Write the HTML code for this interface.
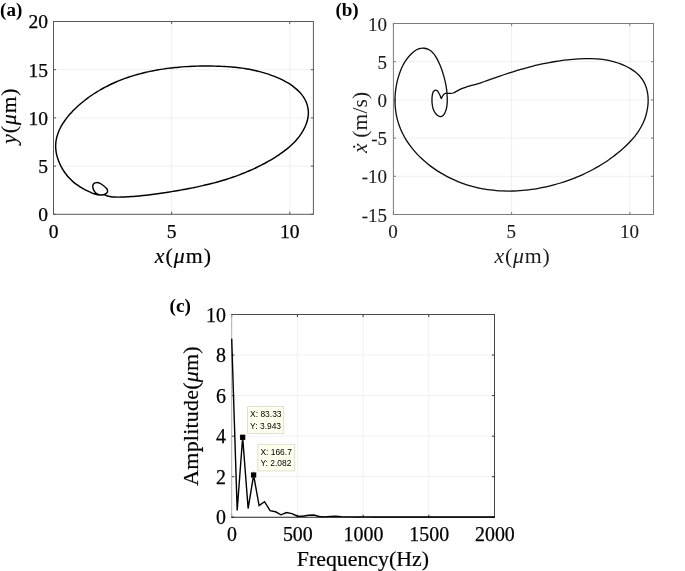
<!DOCTYPE html>
<html lang="en">
<head>
<meta charset="utf-8">
<title>Phase portraits and frequency spectrum</title>
<style>
html,body{margin:0;padding:0;background:#fff;}
body{width:685px;height:571px;overflow:hidden;font-family:"Liberation Serif", serif;}
svg{display:block;}
</style>
</head>
<body>
<svg role="img" aria-label="Phase portraits (a), (b) and frequency spectrum (c)" width="685" height="571" viewBox="0 0 685 571">
<rect width="685" height="571" fill="#fff"/>
<g id="plot-a">
<path d="M171.64 21.5V214.3M289.77 21.5V214.3M53.5 166.1H313.4M53.5 117.9H313.4M53.5 69.7H313.4" stroke="#e6e6e6" stroke-width="0.6" fill="none"/>
<path d="M53.5 214.3v-2.6M53.5 21.5v2.6M171.64 214.3v-2.6M171.64 21.5v2.6M289.77 214.3v-2.6M289.77 21.5v2.6M53.5 214.3h2.6M313.4 214.3h-2.6M53.5 166.1h2.6M313.4 166.1h-2.6M53.5 117.9h2.6M313.4 117.9h-2.6M53.5 69.7h2.6M313.4 69.7h-2.6M53.5 21.5h2.6M313.4 21.5h-2.6" stroke="#585858" stroke-width="1.0" fill="none"/>
<rect x="53.5" y="21.5" width="259.9" height="192.8" fill="none" stroke="#585858" stroke-width="1.0"/>
<g font-family='"Liberation Serif", serif' font-size="19.5" fill="#000" stroke="#000" stroke-width="0.25">
<text x="53.5" y="238.25" text-anchor="middle">0</text>
<text x="171.64" y="238.25" text-anchor="middle">5</text>
<text x="289.77" y="238.25" text-anchor="middle">10</text>
<text x="47.9" y="221.24" text-anchor="end">0</text>
<text x="47.9" y="173.04" text-anchor="end">5</text>
<text x="47.9" y="124.84" text-anchor="end">10</text>
<text x="47.9" y="76.64" text-anchor="end">15</text>
<text x="47.9" y="28.44" text-anchor="end">20</text>
</g>
<path d="M94 193.79C92.4 193.34 91.81 192.88 90.73 192.4C89.65 191.92 88.57 191.42 87.51 190.91C86.45 190.39 85.39 189.86 84.35 189.3C83.32 188.74 82.29 188.16 81.28 187.55C80.27 186.94 79.27 186.31 78.29 185.65C77.32 184.99 76.36 184.3 75.42 183.58C74.48 182.86 73.56 182.11 72.66 181.33C71.77 180.54 70.89 179.72 70.05 178.86C69.2 178 68.38 177.11 67.59 176.17C66.79 175.24 66.03 174.27 65.29 173.27C64.56 172.27 63.86 171.23 63.19 170.17C62.53 169.11 61.9 168.02 61.31 166.92C60.72 165.82 60.16 164.69 59.66 163.55C59.15 162.41 58.68 161.25 58.26 160.08C57.84 158.92 57.47 157.74 57.14 156.57C56.82 155.39 56.54 154.2 56.32 153.03C56.1 151.85 55.94 150.67 55.83 149.5C55.72 148.33 55.67 147.17 55.67 146.01C55.67 144.86 55.74 143.72 55.85 142.59C55.97 141.46 56.14 140.34 56.35 139.23C56.57 138.12 56.84 137.02 57.15 135.93C57.46 134.84 57.82 133.76 58.23 132.7C58.63 131.63 59.07 130.58 59.56 129.54C60.04 128.49 60.57 127.46 61.12 126.45C61.68 125.43 62.28 124.42 62.9 123.43C63.53 122.44 64.19 121.46 64.88 120.49C65.56 119.53 66.28 118.57 67.02 117.63C67.76 116.69 68.53 115.76 69.32 114.85C70.11 113.94 70.92 113.04 71.75 112.15C72.58 111.27 73.43 110.4 74.29 109.54C75.15 108.69 76.03 107.84 76.92 107.02C77.81 106.19 78.71 105.38 79.62 104.58C80.53 103.79 81.45 103.01 82.37 102.24C83.3 101.47 84.24 100.72 85.18 99.99C86.13 99.25 87.08 98.53 88.05 97.82C89.01 97.11 89.98 96.42 90.96 95.74C91.94 95.06 92.93 94.39 93.93 93.74C94.92 93.09 95.93 92.45 96.94 91.83C97.95 91.21 98.97 90.6 99.99 90C101.02 89.4 102.06 88.82 103.1 88.25C104.14 87.68 105.19 87.12 106.24 86.58C107.29 86.03 108.36 85.5 109.42 84.98C110.49 84.46 111.57 83.96 112.65 83.47C113.73 82.97 114.81 82.49 115.9 82.02C117 81.55 118.1 81.1 119.2 80.65C120.3 80.21 121.41 79.78 122.52 79.35C123.64 78.93 124.76 78.52 125.88 78.13C127.01 77.73 128.13 77.34 129.27 76.97C130.4 76.59 131.54 76.23 132.68 75.88C133.82 75.52 134.97 75.18 136.12 74.85C137.27 74.52 138.43 74.2 139.58 73.89C140.74 73.58 141.9 73.28 143.07 72.99C144.23 72.71 145.4 72.43 146.57 72.16C147.74 71.89 148.92 71.63 150.09 71.38C151.27 71.14 152.45 70.9 153.63 70.67C154.81 70.44 156 70.22 157.18 70.01C158.37 69.8 159.56 69.6 160.75 69.41C161.94 69.22 163.13 69.03 164.32 68.86C165.52 68.69 166.71 68.52 167.91 68.36C169.1 68.21 170.3 68.06 171.5 67.92C172.7 67.78 173.9 67.65 175.1 67.53C176.29 67.41 177.49 67.29 178.69 67.19C179.89 67.08 181.09 66.98 182.29 66.89C183.49 66.8 184.7 66.71 185.89 66.64C187.09 66.56 188.29 66.49 189.49 66.43C190.69 66.37 191.89 66.32 193.09 66.27C194.28 66.22 195.48 66.18 196.67 66.15C197.87 66.11 199.06 66.09 200.25 66.07C201.44 66.05 202.63 66.03 203.82 66.03C205.01 66.02 206.2 66.02 207.38 66.02C208.56 66.03 209.74 66.04 210.92 66.05C212.1 66.07 213.28 66.09 214.45 66.12C215.63 66.15 216.8 66.18 217.96 66.22C219.13 66.26 220.29 66.3 221.46 66.35C222.62 66.4 223.78 66.46 224.94 66.52C226.09 66.58 227.25 66.65 228.4 66.73C229.55 66.81 230.71 66.9 231.86 67C233.01 67.1 234.16 67.2 235.31 67.32C236.46 67.43 237.61 67.56 238.76 67.7C239.91 67.84 241.06 67.99 242.21 68.15C243.36 68.31 244.51 68.48 245.66 68.67C246.81 68.85 247.97 69.05 249.12 69.27C250.28 69.48 251.43 69.71 252.59 69.95C253.75 70.2 254.91 70.45 256.08 70.73C257.24 71 258.41 71.29 259.58 71.6C260.75 71.91 261.92 72.23 263.1 72.58C264.28 72.92 265.46 73.28 266.64 73.66C267.83 74.04 269.02 74.44 270.21 74.86C271.4 75.27 272.6 75.71 273.78 76.17C274.97 76.63 276.15 77.11 277.33 77.61C278.5 78.11 279.67 78.63 280.82 79.18C281.97 79.72 283.11 80.29 284.23 80.87C285.34 81.46 286.45 82.08 287.52 82.71C288.6 83.35 289.66 84 290.68 84.69C291.71 85.37 292.71 86.08 293.67 86.81C294.63 87.54 295.57 88.3 296.46 89.09C297.36 89.87 298.22 90.68 299.03 91.51C299.85 92.35 300.62 93.21 301.35 94.1C302.07 94.99 302.75 95.91 303.38 96.85C304 97.8 304.58 98.77 305.1 99.78C305.62 100.78 306.08 101.81 306.48 102.86C306.88 103.91 307.23 104.99 307.51 106.08C307.78 107.17 308 108.28 308.14 109.4C308.29 110.51 308.37 111.64 308.37 112.77C308.38 113.89 308.31 115.02 308.18 116.15C308.05 117.27 307.84 118.4 307.59 119.52C307.33 120.63 307.01 121.74 306.64 122.84C306.28 123.93 305.85 125.01 305.4 126.08C304.94 127.14 304.43 128.18 303.89 129.21C303.35 130.24 302.78 131.24 302.16 132.23C301.55 133.22 300.9 134.19 300.22 135.14C299.54 136.09 298.82 137.03 298.08 137.94C297.34 138.86 296.56 139.76 295.76 140.64C294.96 141.52 294.13 142.38 293.28 143.23C292.43 144.08 291.55 144.91 290.65 145.73C289.75 146.54 288.83 147.34 287.89 148.13C286.95 148.91 285.99 149.68 285.01 150.43C284.04 151.19 283.04 151.92 282.04 152.65C281.03 153.37 280.01 154.08 278.98 154.78C277.95 155.47 276.9 156.16 275.85 156.82C274.8 157.49 273.74 158.15 272.68 158.79C271.61 159.43 270.54 160.06 269.46 160.68C268.39 161.29 267.31 161.9 266.23 162.49C265.16 163.08 264.08 163.66 262.99 164.23C261.91 164.8 260.83 165.35 259.75 165.9C258.66 166.45 257.58 166.98 256.49 167.5C255.4 168.03 254.31 168.54 253.22 169.04C252.13 169.54 251.04 170.03 249.94 170.51C248.85 170.99 247.75 171.47 246.65 171.93C245.56 172.39 244.46 172.84 243.36 173.28C242.26 173.72 241.15 174.15 240.05 174.57C238.95 175 237.84 175.41 236.73 175.81C235.62 176.22 234.51 176.61 233.4 177C232.29 177.39 231.18 177.76 230.06 178.13C228.95 178.51 227.83 178.87 226.71 179.22C225.6 179.58 224.48 179.92 223.35 180.26C222.23 180.6 221.11 180.93 219.98 181.25C218.86 181.58 217.73 181.9 216.6 182.21C215.47 182.52 214.34 182.82 213.21 183.12C212.07 183.41 210.94 183.7 209.8 183.99C208.66 184.27 207.52 184.55 206.38 184.82C205.24 185.1 204.1 185.36 202.95 185.62C201.81 185.89 200.66 186.14 199.51 186.39C198.36 186.64 197.21 186.89 196.06 187.13C194.91 187.37 193.75 187.61 192.6 187.84C191.44 188.07 190.28 188.3 189.12 188.52C187.96 188.75 186.79 188.97 185.63 189.18C184.46 189.4 183.3 189.61 182.13 189.82C180.96 190.03 179.79 190.23 178.61 190.44C177.44 190.64 176.26 190.84 175.09 191.04C173.91 191.23 172.73 191.43 171.54 191.62C170.36 191.81 169.18 192 167.99 192.19C166.8 192.38 165.62 192.56 164.43 192.74C163.24 192.93 162.04 193.1 160.85 193.28C159.66 193.46 158.46 193.63 157.27 193.79C156.07 193.96 154.87 194.13 153.68 194.29C152.48 194.44 151.28 194.6 150.08 194.75C148.88 194.9 147.68 195.04 146.48 195.18C145.28 195.32 144.08 195.45 142.89 195.58C141.69 195.71 140.49 195.83 139.29 195.94C138.09 196.05 136.89 196.16 135.69 196.26C134.5 196.36 133.3 196.46 132.1 196.54C130.91 196.63 129.72 196.71 128.52 196.78C127.33 196.84 126.14 196.91 124.95 196.96C123.76 197.01 122.57 197.06 121.38 197.09C120.2 197.12 119.01 197.15 117.83 197.14C116.65 197.13 115.47 197.11 114.3 197.04C113.12 196.96 111.95 196.85 110.78 196.67C109.61 196.49 108.33 196.29 107.28 195.96C106.24 195.63 105.55 194.88 104.5 194.7C103.45 194.52 102.15 194.98 101 194.9C99.85 194.82 98.6 194.67 97.6 194.2C96.6 193.73 95.73 193 95 192.1C94.27 191.2 93.57 189.88 93.2 188.8C92.83 187.72 92.65 186.5 92.8 185.6C92.95 184.7 93.47 183.9 94.1 183.4C94.73 182.9 95.62 182.62 96.6 182.6C97.58 182.58 98.83 182.78 100 183.3C101.17 183.82 102.5 184.83 103.6 185.7C104.7 186.57 105.93 187.6 106.6 188.5C107.27 189.4 107.58 190.33 107.6 191.1C107.62 191.87 107.28 192.53 106.7 193.1C106.12 193.67 105.17 194.17 104.1 194.5C103.03 194.83 101.98 195.22 100.3 195.1C98.62 194.98 95.59 194.24 94 193.79Z" fill="none" stroke="#000" stroke-width="1.45" stroke-linejoin="round"/>
<text x="0.1" y="15.7" font-family='"Liberation Serif", serif' font-weight="bold" font-size="19.1">(a)</text>
<text x="154.8" y="263.3" letter-spacing="1.03" stroke="#000" stroke-width="0.2" font-family='"Liberation Serif", serif' font-size="21.8"><tspan font-style="italic">x</tspan>(<tspan font-style="italic">μ</tspan>m)</text>
<text transform="translate(15.8 143.7) rotate(-90)" letter-spacing="0.95" stroke="#000" stroke-width="0.2" font-family='"Liberation Serif", serif' font-size="21.5"><tspan font-style="italic">y</tspan>(<tspan font-style="italic">μ</tspan>m)</text>
</g>
<defs><filter id="soft" x="-2%" y="-2%" width="104%" height="104%"><feGaussianBlur stdDeviation="0.38"/></filter></defs>
<g id="plot-b" filter="url(#soft)">
<path d="M511.63 23.5V214.5M629.85 23.5V214.5M393.4 176.3H653.5M393.4 138.1H653.5M393.4 99.9H653.5M393.4 61.7H653.5" stroke="#e6e6e6" stroke-width="0.6" fill="none"/>
<path d="M393.4 214.5v-2.6M393.4 23.5v2.6M511.63 214.5v-2.6M511.63 23.5v2.6M629.85 214.5v-2.6M629.85 23.5v2.6M393.4 214.5h2.6M653.5 214.5h-2.6M393.4 176.3h2.6M653.5 176.3h-2.6M393.4 138.1h2.6M653.5 138.1h-2.6M393.4 99.9h2.6M653.5 99.9h-2.6M393.4 61.7h2.6M653.5 61.7h-2.6M393.4 23.5h2.6M653.5 23.5h-2.6" stroke="#7c7c7c" stroke-width="1.0" fill="none"/>
<rect x="393.4" y="23.5" width="260.1" height="191" fill="none" stroke="#7c7c7c" stroke-width="1.0"/>
<g font-family='"Liberation Serif", serif' font-size="19.0" fill="#1c1c1c" stroke="#1c1c1c" stroke-width="0.12">
<text x="393" y="238.2" text-anchor="middle">0</text>
<text x="511.23" y="238.2" text-anchor="middle">5</text>
<text x="629.45" y="238.2" text-anchor="middle">10</text>
<text x="387" y="221.53" text-anchor="end">-15</text>
<text x="387" y="183.33" text-anchor="end">-10</text>
<text x="387" y="145.13" text-anchor="end">-5</text>
<text x="387" y="106.93" text-anchor="end">0</text>
<text x="387" y="68.73" text-anchor="end">5</text>
<text x="387" y="30.53" text-anchor="end">10</text>
</g>
<path d="M447 93.4C447.16 95.58 447.35 98.07 447.3 100.4C447.25 102.73 447.08 105.35 446.7 107.4C446.32 109.45 445.65 111.32 445 112.7C444.35 114.08 443.53 115.05 442.8 115.7C442.07 116.35 441.4 116.6 440.6 116.6C439.8 116.6 438.88 116.28 438 115.7C437.12 115.12 436.12 114.27 435.3 113.1C434.48 111.93 433.63 110.38 433.1 108.7C432.57 107.02 432.27 104.97 432.1 103C431.93 101.03 431.93 98.72 432.1 96.9C432.27 95.08 432.63 93.2 433.1 92.1C433.57 91 434.23 90.55 434.9 90.3C435.57 90.05 436.45 90.15 437.1 90.6C437.75 91.05 438.27 92.1 438.8 93C439.33 93.9 439.88 95.08 440.3 96C440.72 96.92 440.92 98.5 441.3 98.5C441.68 98.5 442.07 96.78 442.6 96C443.13 95.22 443.73 94.27 444.5 93.8C445.27 93.33 446.17 93.27 447.2 93.2C448.23 93.13 449.68 93.43 450.7 93.4C451.72 93.37 452.28 93.37 453.3 93C454.32 92.63 455.48 91.88 456.8 91.2C458.12 90.52 459.75 89.55 461.2 88.9C462.65 88.25 463.6 87.92 465.5 87.3C467.4 86.68 469.95 85.98 472.6 85.2C475.25 84.42 479.02 83.41 481.41 82.64C483.81 81.88 485.12 81.28 486.98 80.6C488.84 79.93 490.7 79.26 492.56 78.6C494.43 77.94 496.29 77.29 498.16 76.65C500.03 76 501.91 75.37 503.78 74.75C505.66 74.12 507.54 73.51 509.42 72.91C511.31 72.31 513.19 71.72 515.08 71.15C516.97 70.57 518.87 70.01 520.76 69.46C522.66 68.92 524.56 68.38 526.46 67.87C528.37 67.35 530.28 66.85 532.19 66.37C534.1 65.89 536.01 65.42 537.93 64.98C539.85 64.53 541.77 64.1 543.7 63.7C545.63 63.29 547.56 62.9 549.49 62.54C551.43 62.17 553.36 61.83 555.31 61.51C557.25 61.19 559.19 60.89 561.15 60.62C563.1 60.35 565.05 60.1 567.01 59.87C568.97 59.65 570.93 59.45 572.9 59.28C574.86 59.11 576.84 58.97 578.81 58.86C580.78 58.75 582.77 58.66 584.74 58.61C586.72 58.57 588.71 58.56 590.69 58.6C592.67 58.64 594.65 58.72 596.62 58.86C598.59 59 600.57 59.19 602.53 59.45C604.49 59.71 606.45 60.02 608.4 60.41C610.35 60.8 612.29 61.25 614.21 61.79C616.14 62.33 618.07 62.95 619.96 63.65C621.85 64.35 623.74 65.14 625.55 66.01C627.36 66.89 629.15 67.85 630.84 68.9C632.52 69.95 634.16 71.09 635.66 72.32C637.16 73.56 638.58 74.88 639.85 76.3C641.11 77.73 642.26 79.25 643.24 80.86C644.22 82.47 645.04 84.19 645.72 85.97C646.4 87.75 646.92 89.63 647.31 91.53C647.71 93.44 647.95 95.41 648.07 97.4C648.2 99.38 648.18 101.41 648.05 103.43C647.92 105.44 647.67 107.49 647.31 109.49C646.95 111.49 646.47 113.5 645.9 115.45C645.33 117.39 644.65 119.31 643.88 121.16C643.12 123 642.25 124.79 641.31 126.52C640.37 128.26 639.34 129.93 638.25 131.56C637.16 133.19 635.99 134.76 634.77 136.3C633.56 137.83 632.27 139.32 630.94 140.76C629.62 142.21 628.23 143.62 626.82 144.99C625.41 146.36 623.96 147.7 622.49 149.01C621.01 150.32 619.51 151.59 617.98 152.84C616.45 154.08 614.9 155.3 613.33 156.49C611.75 157.67 610.16 158.83 608.54 159.95C606.92 161.08 605.27 162.18 603.61 163.24C601.95 164.31 600.27 165.34 598.57 166.34C596.87 167.35 595.14 168.32 593.41 169.27C591.67 170.21 589.91 171.13 588.14 172.01C586.37 172.89 584.58 173.75 582.78 174.57C580.98 175.39 579.16 176.19 577.33 176.95C575.5 177.71 573.65 178.45 571.8 179.15C569.94 179.85 568.07 180.52 566.2 181.17C564.32 181.81 562.43 182.42 560.53 183C558.63 183.58 556.73 184.13 554.81 184.66C552.9 185.18 550.98 185.67 549.05 186.13C547.12 186.59 545.18 187.02 543.25 187.42C541.31 187.82 539.36 188.19 537.41 188.53C535.47 188.87 533.51 189.18 531.56 189.45C529.61 189.73 527.65 189.97 525.69 190.17C523.73 190.38 521.77 190.55 519.81 190.69C517.85 190.83 515.89 190.93 513.93 191C511.96 191.06 510 191.1 508.05 191.09C506.09 191.08 504.13 191.04 502.18 190.95C500.22 190.87 498.27 190.74 496.32 190.58C494.38 190.42 492.43 190.22 490.49 189.97C488.55 189.73 486.62 189.45 484.69 189.12C482.76 188.79 480.84 188.43 478.93 188.01C477.01 187.6 475.11 187.15 473.21 186.65C471.31 186.15 469.42 185.6 467.54 185.01C465.65 184.42 463.78 183.79 461.92 183.1C460.06 182.42 458.21 181.69 456.37 180.91C454.53 180.14 452.7 179.31 450.89 178.44C449.08 177.57 447.29 176.65 445.52 175.69C443.74 174.73 441.99 173.72 440.27 172.67C438.55 171.63 436.84 170.53 435.18 169.4C433.51 168.26 431.87 167.08 430.27 165.87C428.66 164.65 427.09 163.39 425.57 162.09C424.04 160.79 422.55 159.46 421.1 158.08C419.66 156.7 418.25 155.29 416.9 153.84C415.54 152.39 414.24 150.9 412.98 149.38C411.73 147.86 410.53 146.3 409.39 144.7C408.24 143.11 407.16 141.48 406.13 139.82C405.11 138.16 404.14 136.47 403.25 134.75C402.35 133.02 401.52 131.27 400.76 129.48C400 127.7 399.31 125.88 398.7 124.03C398.08 122.19 397.54 120.31 397.08 118.41C396.62 116.51 396.24 114.58 395.93 112.64C395.62 110.69 395.39 108.73 395.24 106.75C395.08 104.78 395 102.79 395 100.8C394.99 98.81 395.06 96.81 395.2 94.82C395.33 92.82 395.55 90.83 395.83 88.85C396.11 86.87 396.46 84.9 396.88 82.95C397.3 81 397.79 79.06 398.35 77.15C398.91 75.24 399.53 73.34 400.23 71.5C400.94 69.65 401.71 67.82 402.59 66.06C403.46 64.31 404.42 62.58 405.5 60.94C406.58 59.29 407.76 57.7 409.07 56.2C410.39 54.7 411.82 53.17 413.39 51.96C414.96 50.74 416.7 49.54 418.5 48.92C420.29 48.3 422.34 48.06 424.18 48.24C426.02 48.43 427.92 49.08 429.53 50.02C431.14 50.96 432.55 52.38 433.83 53.89C435.1 55.4 436.18 57.27 437.19 59.07C438.19 60.88 439.04 62.85 439.84 64.72C440.64 66.59 441.34 68.43 441.99 70.28C442.63 72.13 443.2 73.95 443.72 75.81C444.25 77.67 444.7 79.53 445.14 81.44C445.57 83.35 446 85.31 446.31 87.3C446.62 89.29 446.84 91.22 447 93.4Z" fill="none" stroke="#0a0a0a" stroke-width="1.3" stroke-linejoin="round"/>
<text x="494.6" y="262.9" letter-spacing="0.78" font-family='"Liberation Serif", serif' font-size="21.8" fill="#1c1c1c"><tspan font-style="italic">x</tspan>(<tspan font-style="italic">μ</tspan>m)</text>
<text transform="translate(366.9 122.3) rotate(-90)" text-anchor="middle" letter-spacing="0.15" font-family='"Liberation Serif", serif' font-size="21.5" fill="#1c1c1c"><tspan font-style="italic">ẋ</tspan> (m/s)</text>
</g>
<text x="335.4" y="15.8" font-family='"Liberation Serif", serif' font-weight="bold" font-size="19.1">(b)</text>
<g id="plot-c">
<path d="M297.4 314.5V517.25M363.1 314.5V517.25M428.8 314.5V517.25M231.7 476.7H494.5M231.7 436.15H494.5M231.7 395.6H494.5M231.7 355.05H494.5" stroke="#e6e6e6" stroke-width="0.6" fill="none"/>
<path d="M231.7 517.25v-2.6M231.7 314.5v2.6M297.4 517.25v-2.6M297.4 314.5v2.6M363.1 517.25v-2.6M363.1 314.5v2.6M428.8 517.25v-2.6M428.8 314.5v2.6M494.5 517.25v-2.6M494.5 314.5v2.6M231.7 517.25h2.6M494.5 517.25h-2.6M231.7 476.7h2.6M494.5 476.7h-2.6M231.7 436.15h2.6M494.5 436.15h-2.6M231.7 395.6h2.6M494.5 395.6h-2.6M231.7 355.05h2.6M494.5 355.05h-2.6M231.7 314.5h2.6M494.5 314.5h-2.6" stroke="#333" stroke-width="1.0" fill="none"/>
<path d="M231.7 314V517.75" stroke="#adadad" stroke-width="1.0"/>
<path d="M231.2 314.5H495" stroke="#4a4a4a" stroke-width="1.0"/>
<path d="M494.5 314V517.75" stroke="#444" stroke-width="1.0"/>
<path d="M231.2 517.25H495" stroke="#222" stroke-width="1.0"/>
<g font-family='"Liberation Serif", serif' font-size="19.9" fill="#000" stroke="#000" stroke-width="0.25">
<text x="232.1" y="541.45" text-anchor="middle">0</text>
<text x="297.8" y="541.45" text-anchor="middle">500</text>
<text x="363.5" y="541.45" text-anchor="middle">1000</text>
<text x="429.2" y="541.45" text-anchor="middle">1500</text>
<text x="494.9" y="541.45" text-anchor="middle">2000</text>
<text x="226" y="524.33" text-anchor="end">0</text>
<text x="226" y="483.78" text-anchor="end">2</text>
<text x="226" y="443.23" text-anchor="end">4</text>
<text x="226" y="402.68" text-anchor="end">6</text>
<text x="226" y="362.13" text-anchor="end">8</text>
<text x="226" y="321.58" text-anchor="end">10</text>
</g>
<path d="M231.7 338.83L237.18 510.56L242.65 437.31L248.13 508.53L253.6 475.04L259.08 505.59L264.55 501.64L270.03 510.56L275.5 511.78L280.98 514.82L286.45 512.59L291.93 513.6L297.4 516.24L302.88 516.24L308.35 515.22L313.83 515.02L319.3 516.44L324.78 516.84L330.25 516.44L335.73 516.24L341.2 516.64L346.68 516.84L352.15 516.84L357.63 516.95L363.1 516.84L368.58 516.84L374.05 516.95L379.53 516.95L385 516.84L390.48 516.95L395.95 517.05L401.43 516.95L406.9 517.05L412.38 517.05L417.85 516.95L423.33 517.05L428.8 517.05L434.28 517.05L439.75 517.05L445.23 517.05L450.7 517.05L456.18 517.05L461.65 517.05L467.13 517.05L472.6 517.05L478.08 517.05L483.55 517.05L489.03 517.05L494.5 517.05" fill="none" stroke="#000" stroke-width="1.4" stroke-linejoin="miter" stroke-miterlimit="6"/>
<rect x="240.05" y="434.71" width="5.2" height="5.2" fill="#000" stroke="#e8e4c0" stroke-width="0.5" paint-order="stroke"/>
<rect x="251" y="472.44" width="5.2" height="5.2" fill="#000" stroke="#e8e4c0" stroke-width="0.5" paint-order="stroke"/>
<rect x="247.6" y="406.6" width="36.1" height="26.8" fill="#ffffee" stroke="#d8d8c8" stroke-width="0.8"/>
<text font-family='"Liberation Sans", sans-serif' font-size="8.45" fill="#000"><tspan x="250.1" y="417.3">X: 83.33</tspan><tspan x="250.1" y="428.5">Y: 3.943</tspan></text>
<rect x="257.9" y="444.3" width="36.8" height="26.6" fill="#ffffee" stroke="#d8d8c8" stroke-width="0.8"/>
<text font-family='"Liberation Sans", sans-serif' font-size="8.45" fill="#000"><tspan x="260.4" y="455">X: 166.7</tspan><tspan x="260.4" y="466.2">Y: 2.082</tspan></text>
<text x="169.6" y="311.6" font-family='"Liberation Serif", serif' font-weight="bold" font-size="19.2">(c)</text>
<text x="362.9" y="565.7" text-anchor="middle" stroke="#000" stroke-width="0.2" font-family='"Liberation Serif", serif' font-size="21.85">Frequency(Hz)</text>
<text transform="translate(198.4 416.0) rotate(-90)" text-anchor="middle" letter-spacing="0.2" stroke="#000" stroke-width="0.2" font-family='"Liberation Serif", serif' font-size="22">Amplitude(<tspan font-style="italic">μ</tspan>m)</text>
</g>
</svg>
</body>
</html>
